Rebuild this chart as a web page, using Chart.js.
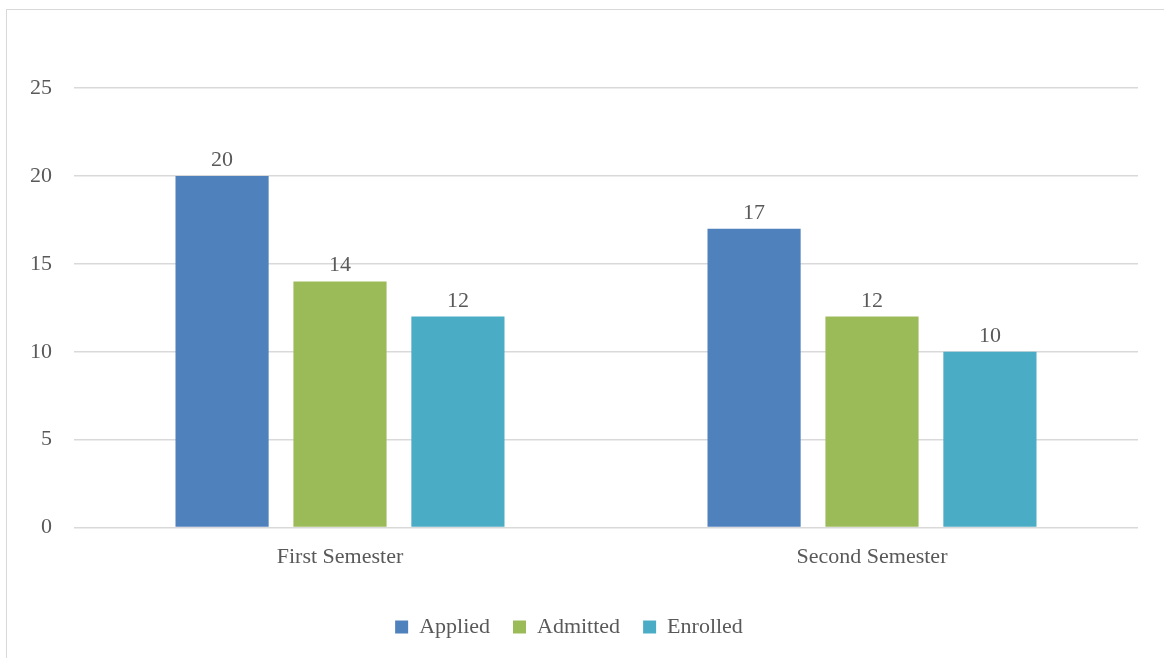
<!DOCTYPE html>
<html>
<head>
<meta charset="utf-8">
<script src="https://cdn.jsdelivr.net/npm/chart.js@4.4.1/dist/chart.umd.min.js"></script>
<style>
  html, body { margin: 0; padding: 0; background: #ffffff; overflow: hidden; }
  #frame { position: absolute; left: 6px; top: 9px; width: 1200px; height: 700px;
           border-left: 1.5px solid #d9d9d9; border-top: 1.5px solid #d9d9d9; box-sizing: border-box; }
  #wrap { position: absolute; left: 0; top: 0; width: 1164px; height: 658px; }
</style>
</head>
<body>
<div id="frame"></div>
<div id="wrap"><canvas id="c" width="1164" height="658"></canvas></div>
<script>
const categories = ["First Semester", "Second Semester"];
const seriesNames = ["Applied", "Admitted", "Enrolled"];
const applied = [20, 17];
const admitted = [14, 12];
const enrolled = [12, 10];
const yTicks = [0, 5, 10, 15, 20, 25];

const colors = ["#4F81BD", "#9BBB59", "#4BACC6"];
const FONT = "'Liberation Serif', 'Times New Roman', serif";
const TEXT = "#595959";

const dataLabels = {
  id: 'dataLabels',
  afterDatasetsDraw(chart) {
    const ctx = chart.ctx;
    ctx.save();
    ctx.font = "22px " + FONT;
    ctx.fillStyle = TEXT;
    ctx.textAlign = 'center';
    ctx.textBaseline = 'alphabetic';
    chart.data.datasets.forEach((ds, i) => {
      const meta = chart.getDatasetMeta(i);
      meta.data.forEach((bar, j) => {
        ctx.fillText(String(ds.data[j]), bar.x, bar.y - 10);
      });
    });
    ctx.restore();
  }
};

new Chart(document.getElementById('c'), {
  type: 'bar',
  data: {
    labels: categories,
    datasets: [
      { label: seriesNames[0], data: applied, backgroundColor: colors[0] },
      { label: seriesNames[1], data: admitted, backgroundColor: colors[1] },
      { label: seriesNames[2], data: enrolled, backgroundColor: colors[2] }
    ]
  },
  options: {
    responsive: false,
    animation: false,
    devicePixelRatio: 1,
    layout: { padding: { left: 0, right: 26, top: 88, bottom: 10 } },
    datasets: { bar: { categoryPercentage: 0.665, barPercentage: 0.79 } },
    scales: {
      x: {
        grid: { display: false, drawTicks: false },
        border: { display: false },
        afterFit(scale) { scale.height += 7; },
        ticks: { color: TEXT, font: { family: FONT, size: 22 }, padding: 16 }
      },
      y: {
        min: 0, max: 25,
        afterBuildTicks(scale) { scale.ticks = yTicks.map(v => ({ value: v })); },
        afterFit(scale) { scale.width = 74; },
        grid: { color: "#d9d9d9", lineWidth: 1.5, drawTicks: false },
        border: { display: false },
        ticks: { color: TEXT, font: { family: FONT, size: 22 }, padding: 22 }
      }
    },
    plugins: {
      legend: {
        position: 'bottom',
        labels: { boxWidth: 13, boxHeight: 13, padding: 23, color: TEXT, font: { family: FONT, size: 22 } }
      },
      tooltip: { enabled: false }
    }
  },
  plugins: [dataLabels]
});
</script>
</body>
</html>
